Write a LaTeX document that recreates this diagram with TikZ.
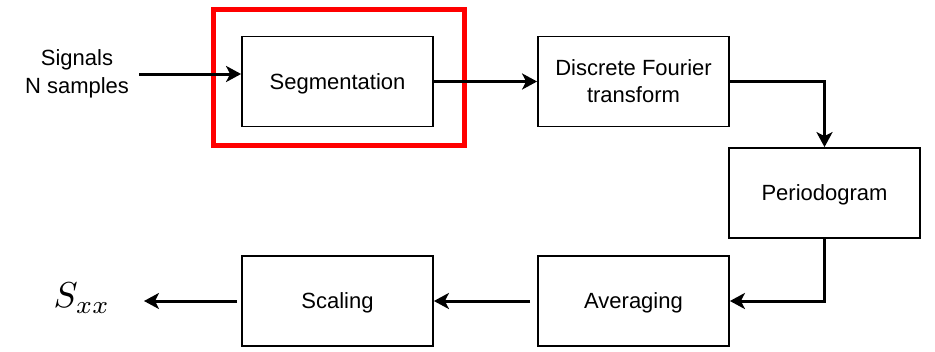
\documentclass[tikz,border=0pt]{standalone}
\usepackage{fontspec}
\setmainfont{Liberation Sans}
\usetikzlibrary{arrows.meta,positioning}

\begin{document}
\begin{tikzpicture}[x=1pt,y=-1pt,
	block/.style={draw,line width=1.8pt,minimum width=191pt,minimum height=90pt,
		align=center,inner sep=0pt,text depth=0pt,font=\fontsize{22}{27}\selectfont},
	flow/.style={line width=3pt,-{Stealth[length=15pt,width=16pt,inset=4pt]}}]
	\useasboundingbox (0,0) rectangle (935,351);
%	main chain of blocks
	\node[block] (seg) at (337.5,81.5) {Segmentation};
	\node[block] (dft) at (633.5,81.5) {Discrete Fourier\\transform};
	\node[block] (per) at (824.5,193) {Periodogram};
	\node[block] (avg) at (633.5,301) {Averaging};
	\node[block] (scl) at (337.5,301) {Scaling};
	\node[draw=red,line width=5pt,minimum width=251pt,minimum height=136pt] (focus) at (339,77.5) {};
%	input and output
	\node[align=center,font=\fontsize{22}{28}\selectfont] (sig) at (77,74) {Signals\\N samples};
	\coordinate (in) at (139,74);
	\node[scale=3.6,inner sep=0pt] (sxx) at (82,298) {$S_{xx}$};
	\draw[flow] (in) -- (seg.west |- in);
	\draw[flow] (seg.east) -- (dft.west);
	\draw[flow] (dft.east) -| (per.north);
	\draw[flow] (per.south) |- (avg.east);
	\draw[flow,shorten <=7pt] (avg.west) -- (scl.east);
	\draw[flow,shorten <=4pt,shorten >=33pt] (scl.west) -- (scl.west -| sxx.east);
\end{tikzpicture}
\end{document}
